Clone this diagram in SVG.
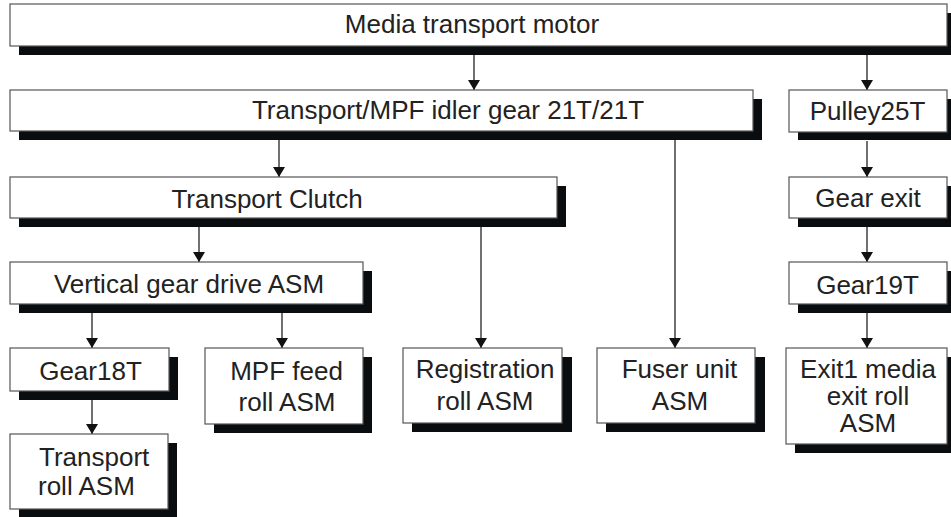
<svg xmlns="http://www.w3.org/2000/svg" width="951" height="517" viewBox="0 0 951 517">
<style>
.sh{fill:#0a0d10}
.bx{fill:#fff;stroke:#555;stroke-width:1.2}
text{font-family:"Liberation Sans",Arial,Helvetica,sans-serif;font-size:26px;fill:#222;text-anchor:middle}
.c line{stroke:#111;stroke-width:1.2}
</style>
<defs>
<marker id="ah" markerWidth="10" markerHeight="12" refX="10" refY="5" orient="auto" markerUnits="userSpaceOnUse" viewBox="0 0 10 10" preserveAspectRatio="none">
<path d="M0,0 L10,5 L0,10 Z" fill="#111"/>
</marker>
</defs>
<rect width="951" height="517" fill="#fff"/>
<g class="c">
<line x1="474" y1="55" x2="474" y2="90" marker-end="url(#ah)"/>
<line x1="867" y1="55" x2="867" y2="90" marker-end="url(#ah)"/>
<line x1="279" y1="140" x2="279" y2="177" marker-end="url(#ah)"/>
<line x1="675" y1="140" x2="675" y2="348" marker-end="url(#ah)"/>
<line x1="867" y1="141" x2="867" y2="177" marker-end="url(#ah)"/>
<line x1="867" y1="227" x2="867" y2="262" marker-end="url(#ah)"/>
<line x1="867" y1="313" x2="867" y2="348" marker-end="url(#ah)"/>
<line x1="199" y1="227" x2="199" y2="262" marker-end="url(#ah)"/>
<line x1="481" y1="227" x2="481" y2="348" marker-end="url(#ah)"/>
<line x1="92" y1="313" x2="92" y2="348" marker-end="url(#ah)"/>
<line x1="282" y1="313" x2="282" y2="348" marker-end="url(#ah)"/>
<line x1="92" y1="400" x2="92" y2="434" marker-end="url(#ah)"/>
</g>
<g id="motor">
<rect class="sh" x="19" y="13" width="940" height="42"/>
<rect class="bx" x="10" y="4" width="937" height="42"/>
<text x="472" y="33">Media transport motor</text>
</g>
<g id="idler">
<rect class="sh" x="19" y="99" width="743" height="41"/>
<rect class="bx" x="10" y="90" width="743" height="41"/>
<text x="448" y="119">Transport/MPF idler gear 21T/21T</text>
</g>
<g id="pulley">
<rect class="sh" x="798" y="99" width="160" height="41"/>
<rect class="bx" x="789" y="90" width="158" height="42"/>
<text x="867.500" y="120">Pulley25T</text>
</g>
<g id="clutch">
<rect class="sh" x="19" y="186" width="547" height="41"/>
<rect class="bx" x="10" y="177" width="547" height="41"/>
<text x="267" y="208">Transport Clutch</text>
</g>
<g id="gearexit">
<rect class="sh" x="798" y="186" width="160" height="41"/>
<rect class="bx" x="789" y="177" width="158" height="41"/>
<text x="868" y="207">Gear exit</text>
</g>
<g id="vertical">
<rect class="sh" x="19" y="271" width="353" height="42"/>
<rect class="bx" x="10" y="262" width="353" height="42"/>
<text x="189" y="293">Vertical gear drive ASM</text>
</g>
<g id="gear19">
<rect class="sh" x="798" y="271" width="160" height="42"/>
<rect class="bx" x="789" y="262" width="158" height="42"/>
<text x="867.500" y="294">Gear19T</text>
</g>
<g id="gear18">
<rect class="sh" x="19" y="357" width="159" height="43"/>
<rect class="bx" x="10" y="348" width="159" height="43"/>
<text x="90.500" y="380">Gear18T</text>
</g>
<g id="mpf">
<rect class="sh" x="214" y="357" width="158" height="76"/>
<rect class="bx" x="205" y="348" width="158" height="76"/>
<text x="286.500" y="380">MPF feed</text>
<text x="287" y="411">roll ASM</text>
</g>
<g id="registration">
<rect class="sh" x="412" y="357" width="160" height="75"/>
<rect class="bx" x="403" y="348" width="159" height="75"/>
<text x="485" y="378">Registration</text>
<text x="485" y="410">roll ASM</text>
</g>
<g id="fuser">
<rect class="sh" x="606" y="357" width="159" height="75"/>
<rect class="bx" x="597" y="348" width="158" height="75"/>
<text x="679.500" y="378">Fuser unit</text>
<text x="680" y="410">ASM</text>
</g>
<g id="exit1">
<rect class="sh" x="795" y="357" width="165" height="96"/>
<rect class="bx" x="786" y="348" width="161" height="96"/>
<text x="868" y="378">Exit1 media</text>
<text x="868" y="405">exit roll</text>
<text x="868" y="432">ASM</text>
</g>
<g id="transportroll">
<rect class="sh" x="19" y="443" width="158" height="75"/>
<rect class="bx" x="10" y="434" width="158" height="75"/>
<text x="39" y="466" style="text-anchor:start">Transport</text>
<text x="38" y="495" style="text-anchor:start">roll ASM</text>
</g>
</svg>
